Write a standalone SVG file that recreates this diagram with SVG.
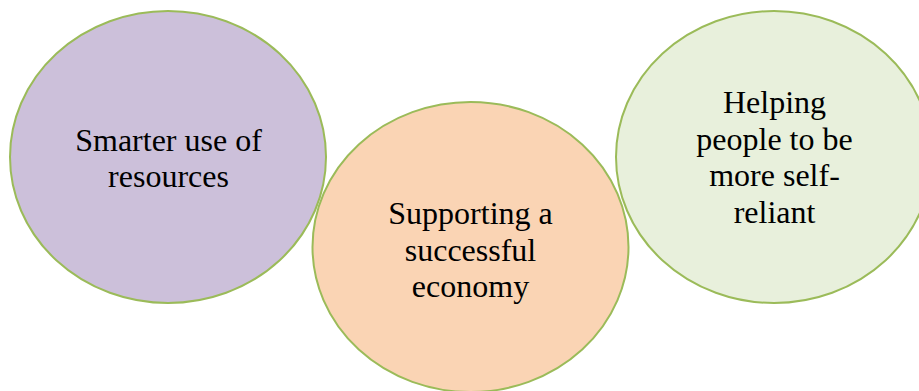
<svg xmlns="http://www.w3.org/2000/svg" width="919" height="391" viewBox="0 0 919 391">
<style>
.c{stroke:#9BBB59;stroke-width:2}
.t{font-family:"Liberation Serif","Times New Roman",serif;font-size:32px;fill:#000;text-anchor:middle}
</style>
<rect width="919" height="391" fill="#fff"/>
<g id="node1">
<ellipse class="c" cx="168" cy="157" rx="158" ry="146" fill="#CCC0DA"/>
<text class="t" x="168.5" y="150.5">Smarter use of</text>
<text class="t" x="168.5" y="187">resources</text>
</g>
<g id="node2">
<ellipse class="c" cx="470.5" cy="247" rx="158" ry="145" fill="#FAD4B4"/>
<text class="t" x="470.5" y="224">Supporting a</text>
<text class="t" x="470.5" y="260.5">successful</text>
<text class="t" x="470.5" y="297">economy</text>
</g>
<g id="node3">
<ellipse class="c" cx="774" cy="157" rx="158" ry="146" fill="#E8F0DC"/>
<text class="t" x="774.5" y="113">Helping</text>
<text class="t" x="774.5" y="149.5">people to be</text>
<text class="t" x="774.5" y="186">more self-</text>
<text class="t" x="774.5" y="222.5">reliant</text>
</g>
<g id="connectors"/>
</svg>
